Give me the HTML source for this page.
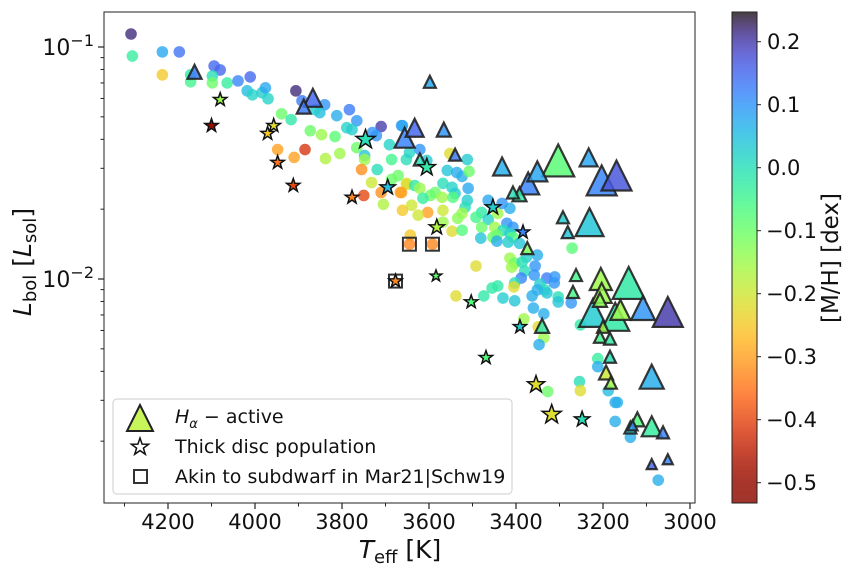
<!DOCTYPE html>
<html><head><meta charset="utf-8"><style>
html,body{margin:0;padding:0;background:#fff;}
svg{display:block;font-family:"DejaVu Sans","Liberation Sans",sans-serif;}
</style></head><body>
<svg id="chart" width="864" height="576" viewBox="0 0 864 576" xmlns="http://www.w3.org/2000/svg">
<g id="plot"></g>
<g id="axes"></g>
<g id="cbar"></g>
<g id="legend"></g>
</svg>
<script>
// ---- data ----
const circTeff = [4285,4282,4213,4174,4213,4148,4148,4094,4080,4098,4098,4064,4039,4011,4018,4006,3984,3976,3970,3906,3892,3840,3851,3862,3939,3917,3873,3847,3816,3812,3783,3766,3789,3777,3766,3805,3838,3948,3885,3910,3710,3730,3721,3691,3663,3748,3748,3755,3719,3686,3652,3645,3686,3671,3732,3710,3666,3650,3750,3705,3643,3661,3621,3605,3552,3512,3558,3536,3524,3508,3510,3568,3547,3540,3652,3633,3621,3663,3586,3597,3570,3614,3545,3512,3517,3568,3524,3534,3568,3603,3479,3492,3464,3442,3414,3432,3464,3421,3407,3479,3449,3430,3444,3414,3407,3453,3481,3444,3418,3392,3547,3524,3351,3376,3271,3414,3403,3386,3410,3380,3356,3358,3329,3311,3388,3345,3312,3492,3403,3334,3351,3329,3363,3405,3455,3442,3474,3430,3403,3538,3303,3303,3273,3360,3336,3382,3349,3336,3347,3252,3212,3212,3254,3252,3327,3188,3172,3167,3172,3137,3073,3640,3625,3661,3645,3592];
const circLogL = [-0.944,-1.039,-1.021,-1.021,-1.120,-1.120,-1.150,-1.082,-1.099,-1.125,-1.155,-1.155,-1.146,-1.129,-1.189,-1.206,-1.197,-1.176,-1.223,-1.189,-1.232,-1.249,-1.283,-1.270,-1.288,-1.313,-1.361,-1.378,-1.386,-1.296,-1.270,-1.318,-1.348,-1.356,-1.434,-1.459,-1.481,-1.442,-1.442,-1.476,-1.343,-1.369,-1.382,-1.421,-1.339,-1.468,-1.485,-1.528,-1.528,-1.485,-1.485,-1.455,-1.571,-1.554,-1.584,-1.627,-1.627,-1.592,-1.640,-1.678,-1.811,-1.339,-1.442,-1.489,-1.459,-1.485,-1.532,-1.541,-1.558,-1.536,-1.609,-1.588,-1.605,-1.631,-1.588,-1.597,-1.609,-1.627,-1.627,-1.640,-1.648,-1.652,-1.648,-1.661,-1.691,-1.704,-1.717,-1.738,-1.755,-1.713,-1.713,-1.734,-1.743,-1.717,-1.695,-1.674,-1.661,-1.760,-1.777,-1.777,-1.777,-1.790,-1.811,-1.803,-1.820,-1.820,-1.824,-1.837,-1.841,-1.846,-1.794,-1.790,-1.897,-1.906,-1.867,-1.910,-1.931,-1.927,-1.949,-1.966,-1.944,-1.983,-1.996,-1.991,-1.996,-2.021,-2.017,-1.944,-2.017,-2.047,-2.047,-2.060,-2.073,-2.034,-2.039,-2.030,-2.073,-2.082,-2.094,-2.073,-2.077,-2.099,-2.103,-2.125,-2.150,-2.172,-2.206,-2.253,-2.283,-2.198,-2.343,-2.378,-2.442,-2.481,-2.485,-2.481,-2.532,-2.532,-2.614,-2.682,-2.867,-1.682,-1.725,-1.704,-1.850,-1.850];
const circMH = [0.22,-0.03,0.08,0.14,-0.25,-0.02,-0.05,0.15,0.15,0.0,-0.1,-0.03,0.12,0.15,0.05,0.02,0.03,0.08,0.02,0.22,0.13,0.10,0.05,0.03,-0.10,-0.02,-0.10,-0.15,-0.08,0.07,0.13,0.10,0.02,0.03,-0.10,-0.15,-0.17,-0.30,-0.42,-0.30,0.20,0.10,0.10,0.02,0.10,0.04,-0.15,-0.32,0.0,-0.05,0.0,0.02,-0.10,-0.10,-0.20,-0.32,-0.30,-0.20,-0.40,-0.17,-0.25,0.08,0.10,0.03,-0.22,0.03,0.04,0.07,0.07,-0.10,0.08,0.0,0.02,0.03,-0.22,-0.02,-0.15,-0.30,-0.10,-0.10,-0.15,-0.03,-0.07,0.03,0.0,-0.20,-0.15,-0.13,-0.15,-0.30,-0.02,-0.05,0.02,-0.15,0.07,0.10,0.08,0.10,0.10,-0.10,-0.15,0.0,-0.10,0.02,-0.07,-0.10,0.04,0.07,0.03,0.04,-0.22,-0.07,0.07,0.03,-0.08,-0.15,-0.10,0.0,-0.15,0.0,0.10,0.10,0.13,0.10,0.12,0.03,0.10,-0.22,0.0,0.0,0.07,0.04,0.07,-0.22,-0.02,-0.02,-0.02,0.03,0.04,-0.22,0.0,0.04,0.10,0.07,0.07,-0.15,-0.22,-0.15,0.07,-0.02,-0.03,0.07,0.0,-0.22,-0.10,0.05,0.07,0.07,0.07,0.07,0.07,-0.20,-0.20,-0.25,-0.33,-0.33];

const triTeff = [4139,3888,3867,3656,3598,3633,3566,3540,3621,3432,3351,3303,3233,3372,3407,3392,3203,3169,3292,3231,3281,3374,3262,3205,3141,3269,3203,3223,3172,3108,3051,3160,3207,3200,3207,3184,3340,3184,3193,3182,3088,3121,3088,3062,3137,3132,3088,3051];
const triLogL = [-1.107,-1.257,-1.219,-1.391,-1.150,-1.348,-1.356,-1.464,-1.485,-1.515,-1.536,-1.489,-1.476,-1.588,-1.627,-1.635,-1.575,-1.554,-1.734,-1.755,-1.798,-1.867,-1.983,-2.000,-2.017,-2.056,-2.060,-2.146,-2.163,-2.125,-2.142,-2.133,-2.090,-2.206,-2.249,-2.257,-2.202,-2.335,-2.403,-2.447,-2.421,-2.605,-2.635,-2.661,-2.640,-2.631,-2.798,-2.777];
const triMH = [0.13,0.13,0.15,0.12,0.08,0.15,0.10,0.13,0.0,0.07,0.08,-0.08,0.08,0.12,0.0,-0.02,0.12,0.17,0.03,0.04,0.04,-0.12,-0.05,-0.15,-0.02,-0.06,-0.15,0.03,-0.02,0.10,0.20,-0.15,-0.13,-0.15,-0.05,-0.02,-0.02,0.0,-0.20,-0.15,0.07,-0.07,-0.03,0.12,0.03,0.10,0.15,0.12];
const triSize = [7,7,9,10,6,9,7,6,6,9,10,16,9,11,6,7,15,15,6,14,6,6,6,11,16,6,10,14,14,12,15,10,7,6,6,6,7,6,7,6,12,7,10,6,6,5,5,5];

const starTeff = [4080,4100,3957,3971,3948,3912,3777,3746,3695,3677,3605,3582,3453,3384,3584,3503,3391,3469,3354,3318,3248];
const starLogL = [-1.227,-1.339,-1.339,-1.373,-1.498,-1.597,-1.648,-1.399,-1.605,-2.009,-1.519,-1.777,-1.691,-1.798,-1.987,-2.099,-2.206,-2.339,-2.455,-2.584,-2.605];
const starMH = [-0.15,-0.50,-0.22,-0.25,-0.35,-0.40,-0.33,0.0,0.05,-0.33,-0.02,-0.17,0.03,0.12,-0.08,-0.07,0.03,-0.07,-0.22,-0.22,0.0];
const starSize = [7,7,7,7,7,7,7,10,8,7,9,8,8,7,6,7,7,7,9,10,8];

const sqTeff = [3645,3592,3677];
const sqLogL = [-1.850,-1.850,-2.009];

const xTicks = [4200,4000,3800,3600,3400,3200,3000];
const xMinor = [4300,4100,3900,3700,3500,3300,3100];
const cbTicks = [0.2,0.1,0.0,-0.1,-0.2,-0.3,-0.4,-0.5];

// ---- scales ----
const NS='http://www.w3.org/2000/svg';
const X0=104,X1=695,Y0=12,Y1=503;
function sx(t){return 168+(4200-t)/200*87;}
function sy(l){return 47+(-1-l)*232;}
const VMAX=0.247,VMIN=-0.532;
function cy(v){return 41.7+(0.2-v)*630;}
function turbo(t){t=Math.max(0,Math.min(1,t));
 const r=0.13572138+t*(4.61539260+t*(-42.66032258+t*(132.13108234+t*(-152.94239396+t*59.28637943))));
 const g=0.09140261+t*(2.19418839+t*(4.84296658+t*(-14.18503333+t*(4.27729857+t*2.82956604))));
 const b=0.10667330+t*(12.64194608+t*(-60.58204836+t*(110.36276771+t*(-89.90310912+t*27.34824973))));
 const c=v=>Math.round(255*Math.max(0,Math.min(1,v)));
 return 'rgb('+c(r)+','+c(g)+','+c(b)+')';}
function col(v){return turbo((VMAX-v)/(VMAX-VMIN));}
function mk(tag,attrs,parent){const e=document.createElementNS(NS,tag);for(const k in attrs)e.setAttribute(k,attrs[k]);parent.appendChild(e);return e;}
function starPts(x,y,r){let p=[];for(let i=0;i<10;i++){const a=-Math.PI/2+i*Math.PI/5;const rr=i%2?r*0.4:r;p.push((x+rr*Math.cos(a)).toFixed(1)+','+(y+rr*Math.sin(a)).toFixed(1));}return p.join(' ');}
function triPts(x,y,s){return x+','+(y-s)+' '+(x-s)+','+(y+s)+' '+(x+s)+','+(y+s);}

const plot=document.getElementById('plot');
mk('clipPath',{id:'clip'},plot).appendChild((()=>{const r=document.createElementNS(NS,'rect');r.setAttribute('x',X0);r.setAttribute('y',Y0);r.setAttribute('width',X1-X0);r.setAttribute('height',Y1-Y0);return r;})());
const pg=mk('g',{'clip-path':'url(#clip)'},plot);



for(let i=0;i<circTeff.length;i++){
 const c=mk('circle',{cx:sx(circTeff[i]),cy:sy(circLogL[i]),r:5.8,fill:col(circMH[i]),'fill-opacity':0.8},pg);
 
 
}
for(let i=0;i<sqTeff.length;i++){
 const x=sx(sqTeff[i]),y=sy(sqLogL[i]);
 const s=mk('rect',{x:x-6.5,y:y-6.5,width:13,height:13,fill:'none',stroke:'#333','stroke-width':2},pg);
 
 
}
const order=triTeff.map((_,i)=>i).sort((a,b)=>triSize[b]-triSize[a]);
for(const i of order){
 const t=mk('polygon',{points:triPts(sx(triTeff[i]),sy(triLogL[i]),triSize[i]),fill:col(triMH[i]),'fill-opacity':0.85,stroke:'#222','stroke-opacity':0.9,'stroke-width':2.2,'stroke-linejoin':'miter'},pg);
 
 
}
for(let i=0;i<starTeff.length;i++){
 const s=mk('polygon',{points:starPts(sx(starTeff[i]),sy(starLogL[i]),starSize[i]),fill:col(starMH[i]),stroke:'#111','stroke-width':1.5},pg);
 
 
}

// ---- axes ----
const ax=document.getElementById('axes');
const frame=mk('rect',{x:X0,y:Y0,width:X1-X0,height:Y1-Y0,fill:'none',stroke:'#222','stroke-width':1},ax);


for(const t of xTicks){
 const x=sx(t);
 mk('line',{x1:x,x2:x,y1:Y1,y2:Y1+6,stroke:'#222','stroke-width':1.2},ax);
 const tx=mk('text',{x:x,y:529,'font-size':21,'text-anchor':'middle',fill:'#111'},ax);
 tx.textContent=t;
 
 
}
for(const t of xMinor){const x=sx(t);mk('line',{x1:x,x2:x,y1:Y1,y2:Y1+3.5,stroke:'#222','stroke-width':1},ax);}
for(const d of [-1,-2]){const y=sy(d);mk('line',{x1:X0-6,x2:X0,y1:y,y2:y,stroke:'#222','stroke-width':1.2},ax);}
for(const d of [-3,-2,-1]){for(let k=2;k<10;k++){const y=sy(d+Math.log10(k));if(y>Y0&&y<Y1)mk('line',{x1:X0-3.5,x2:X0,y1:y,y2:y,stroke:'#222','stroke-width':1},ax);}}
const yl1=mk('text',{x:94,y:55,'font-size':22,'text-anchor':'end',fill:'#111'},ax);
yl1.innerHTML='10<tspan dy="-9" font-size="16">−1</tspan>';


const yl2=mk('text',{x:94,y:287,'font-size':22,'text-anchor':'end',fill:'#111'},ax);
yl2.innerHTML='10<tspan dy="-9" font-size="16">−2</tspan>';


const xt=mk('text',{x:400,y:558,'font-size':25,'text-anchor':'middle',fill:'#111'},ax);
xt.innerHTML='<tspan font-style="italic">T</tspan><tspan font-size="18" dy="5">eff</tspan><tspan dy="-5"> [K]</tspan>';


const yt=mk('text',{x:0,y:0,'font-size':25,'text-anchor':'middle',fill:'#111',transform:'translate(31,262) rotate(-90)'},ax);
yt.innerHTML='<tspan font-style="italic">L</tspan><tspan font-size="18" dy="5">bol</tspan><tspan dy="-5"> [</tspan><tspan font-style="italic">L</tspan><tspan font-size="18" dy="5">sol</tspan><tspan dy="-5">]</tspan>';



// ---- colorbar ----
const cb=document.getElementById('cbar');
const CX0=732,CX1=757;
for(let y=Y0;y<Y1;y+=1){
 const v=0.2-(y+0.5-41.7)/630;
 mk('rect',{x:CX0,y:y,width:CX1-CX0,height:1.2,fill:col(v),'fill-opacity':0.8},cb);
}
const cbf=mk('rect',{x:CX0,y:Y0,width:CX1-CX0,height:Y1-Y0,fill:'none',stroke:'#222','stroke-width':1},cb);


for(const v of cbTicks){
 const y=cy(v);
 mk('line',{x1:CX1,x2:CX1+4,y1:y,y2:y,stroke:'#222','stroke-width':1},cb);
 const t=mk('text',{x:v<0?766:767,y:y+7.5,'font-size':21,fill:'#111'},cb);
 t.textContent=(v<0?'−':'')+Math.abs(v).toFixed(1);
 
 
}
const cbt=mk('text',{x:0,y:0,'font-size':23,'text-anchor':'middle',fill:'#111',transform:'translate(838,258) rotate(-90)'},cb);
cbt.textContent='[M/H] [dex]';



// ---- legend ----
const lg=document.getElementById('legend');
const lb=mk('rect',{x:113,y:399,width:399,height:95,rx:4,fill:'#fff','fill-opacity':0.8,stroke:'#ccc','stroke-width':1},lg);


const l1=mk('polygon',{points:triPts(140,418,13),fill:'#c8f55a',stroke:'#222','stroke-width':2},lg);


const t1=mk('text',{x:175,y:423,'font-size':19,fill:'#111'},lg);
t1.innerHTML='<tspan font-style="italic">H</tspan><tspan font-style="italic" font-size="13" dy="5">α</tspan><tspan dy="-5"> − active</tspan>';


const l2=mk('polygon',{points:starPts(140,447,9),fill:'#fff',stroke:'#111','stroke-width':1.5},lg);


const t2=mk('text',{x:175,y:453,'font-size':19,fill:'#111'},lg);
t2.textContent='Thick disc population';


const l3=mk('rect',{x:134,y:470,width:13,height:13,fill:'none',stroke:'#333','stroke-width':2},lg);


const t3=mk('text',{x:175,y:483,'font-size':19,fill:'#111'},lg);
t3.textContent='Akin to subdwarf in Mar21|Schw19';


</script>
</body></html>
